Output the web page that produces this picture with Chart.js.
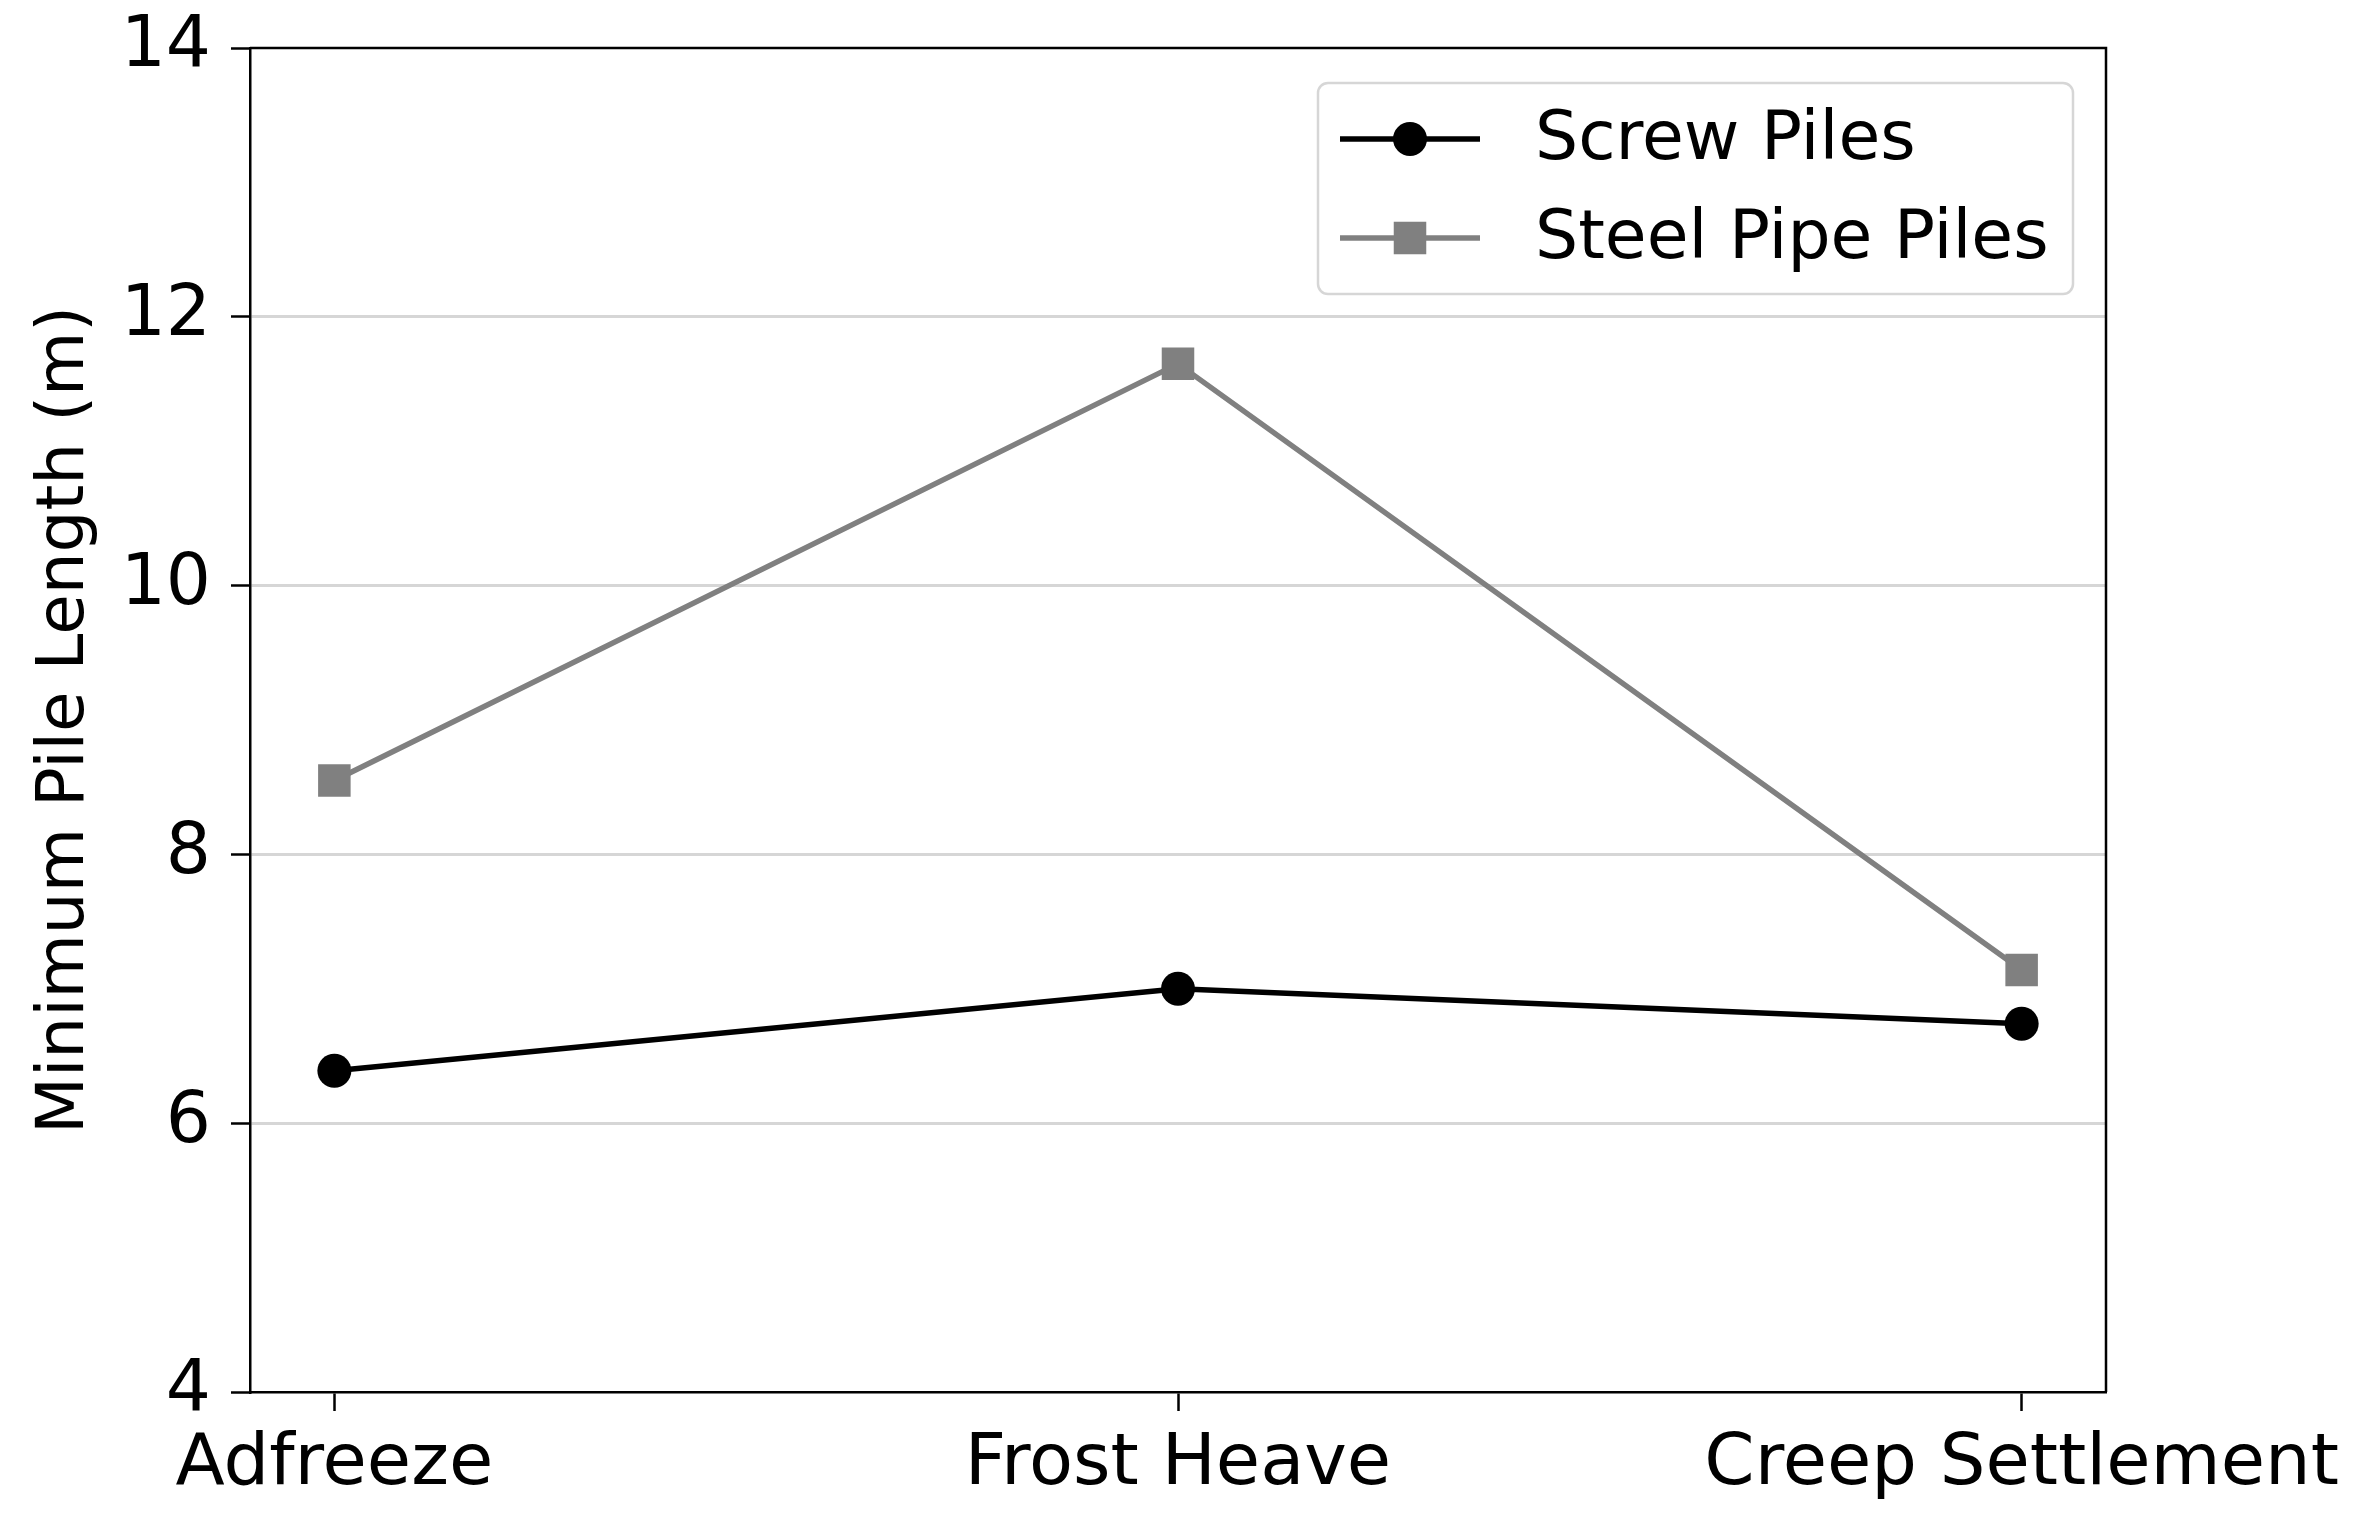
<!DOCTYPE html>
<html>
<head>
<meta charset="utf-8">
<script src="https://cdn.jsdelivr.net/npm/chart.js@4.4.0/dist/chart.umd.min.js"></script>
<style>
html, body { margin:0; padding:0; background:#fff; }
#wrap { width:2362px; height:1518px; }
</style>
</head>
<body>
<div id="wrap"><canvas id="chart"></canvas></div>
<script>
// Data
const categories = ["Adfreeze", "Frost Heave", "Creep Settlement"];
const screwPiles = [6.39, 7.00, 6.74];
const steelPipePiles = [8.55, 11.65, 7.14];
const yTicks = [4, 6, 8, 10, 12, 14];

const FONT = "'DejaVu Sans', 'Liberation Sans', sans-serif";
Chart.defaults.font.family = FONT;
Chart.defaults.color = "#000";

const toPoints = vals => vals.map((v, i) => ({x: i, y: v}));

// frame on top/right like matplotlib spines
const frame = {
    id: "frame",
    afterDraw(chart) {
        const {ctx, chartArea: a} = chart;
        ctx.save();
        ctx.strokeStyle = "#000";
        ctx.lineWidth = 2.5;
        ctx.beginPath();
        ctx.moveTo(a.left, a.top);
        ctx.lineTo(a.right, a.top);
        ctx.lineTo(a.right, a.bottom);
        ctx.stroke();
        ctx.restore();
    }
};

// boxed legend inside the plot, upper right
const boxLegend = {
    id: "boxLegend",
    afterDraw(chart) {
        const {ctx, chartArea: a} = chart;
        const w = 755, h = 211;
        const x0 = a.right - 33 - w, y0 = a.top + 35;
        ctx.save();
        ctx.beginPath();
        ctx.roundRect(x0, y0, w, h, 10);
        ctx.fillStyle = "rgba(255,255,255,0.8)";
        ctx.fill();
        ctx.strokeStyle = "#d6d6d6";
        ctx.lineWidth = 2.5;
        ctx.stroke();

        chart.data.datasets.forEach((ds, i) => {
            const y = y0 + 56 + i * 99;
            const lx0 = x0 + 22, lx1 = x0 + 162, mx = (lx0 + lx1) / 2;
            ctx.strokeStyle = ds.borderColor;
            ctx.lineWidth = ds.borderWidth;
            ctx.beginPath();
            ctx.moveTo(lx0, y);
            ctx.lineTo(lx1, y);
            ctx.stroke();
            ctx.fillStyle = ds.pointBackgroundColor;
            if (ds.pointStyle === "rect") {
                const s = ds.pointRadius * Math.SQRT1_2;
                ctx.fillRect(mx - s, y - s, 2 * s, 2 * s);
            } else {
                ctx.beginPath();
                ctx.arc(mx, y, ds.pointRadius, 0, Math.PI * 2);
                ctx.fill();
            }
            ctx.fillStyle = "#000";
            ctx.font = "68px " + FONT;
            ctx.textBaseline = "middle";
            ctx.textAlign = "left";
            ctx.fillText(ds.label, x0 + 217, y + 2);
        });
        ctx.restore();
    }
};

new Chart(document.getElementById("chart"), {
    type: "line",
    data: {
        datasets: [
            {
                label: "Screw Piles",
                data: toPoints(screwPiles),
                borderColor: "#000",
                backgroundColor: "#000",
                pointBackgroundColor: "#000",
                pointBorderColor: "#000",
                borderWidth: 5.5,
                pointStyle: "circle",
                pointRadius: 17,
                pointBorderWidth: 0,
                tension: 0
            },
            {
                label: "Steel Pipe Piles",
                data: toPoints(steelPipePiles),
                borderColor: "#808080",
                backgroundColor: "#808080",
                pointBackgroundColor: "#808080",
                pointBorderColor: "#808080",
                borderWidth: 5.5,
                pointStyle: "rect",
                pointRadius: 23,
                pointBorderWidth: 0,
                tension: 0
            }
        ]
    },
    options: {
        responsive: true,
        maintainAspectRatio: false,
        animation: false,
        layout: { padding: { top: 48, right: 256, left: 0, bottom: 0 } },
        plugins: {
            legend: { display: false },
            tooltip: { enabled: false }
        },
        scales: {
            x: {
                type: "linear",
                min: -0.1,
                max: 2.1,
                afterBuildTicks: s => { s.ticks = categories.map((c, i) => ({value: i})); },
                afterFit: s => { s.height = 126; s.paddingLeft = 0; s.paddingRight = 0; },
                ticks: {
                    callback: v => categories[v],
                    font: { size: 72 },
                    padding: 11,
                    maxRotation: 0,
                    autoSkip: false
                },
                grid: {
                    drawOnChartArea: false,
                    drawTicks: true,
                    tickLength: 19,
                    tickColor: "#000",
                    tickWidth: 2.5
                },
                border: { color: "#000", width: 2.5 }
            },
            y: {
                min: 4,
                max: 14,
                afterBuildTicks: s => { s.ticks = yTicks.map(v => ({value: v})); },
                afterFit: s => { s.width = 250; s.paddingTop = 0; s.paddingBottom = 0; },
                ticks: {
                    font: { size: 71 },
                    padding: 20
                },
                grid: {
                    color: c => (c.tick && (c.tick.value === 4 || c.tick.value === 14)) ? "rgba(0,0,0,0)" : "#d6d6d6",
                    lineWidth: 3,
                    borderDash: [3, 2.5],
                    drawTicks: true,
                    tickLength: 19,
                    tickColor: "#000",
                    tickWidth: 2.5,
                    tickBorderDash: []
                },
                border: { color: "#000", width: 2.5 },
                title: {
                    display: true,
                    text: "Minimum Pile Length (m)",
                    font: { size: 66 },
                    padding: { top: 26, bottom: 0 }
                }
            }
        }
    },
    plugins: [frame, boxLegend]
});
</script>
</body>
</html>
